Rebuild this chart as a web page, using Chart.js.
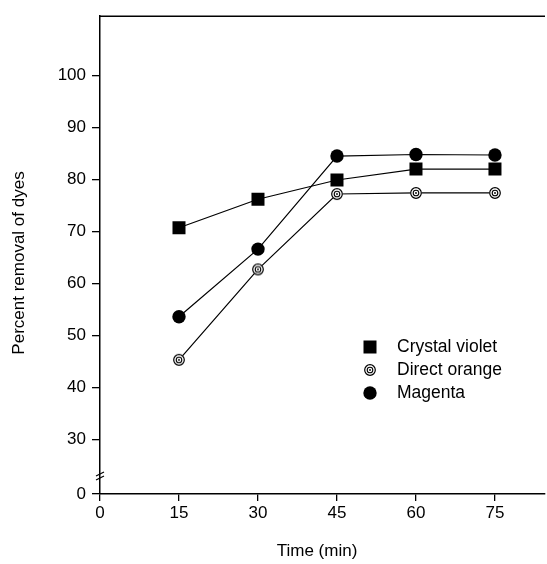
<!DOCTYPE html>
<html>
<head>
<meta charset="utf-8">
<script src="https://cdn.jsdelivr.net/npm/chart.js@4"></script>
<style>
  body { margin: 0; background: #fff; }
</style>
</head>
<body>
<canvas id="myChart" width="547" height="564"></canvas>
<script>
const times = [15, 30, 45, 60, 75];
const crystalViolet = [70.7, 76.2, 79.9, 82.0, 82.0];
const directOrange = [45.3, 62.7, 77.2, 77.4, 77.4];
const magenta = [53.6, 66.6, 84.5, 84.8, 84.7];
const seriesNames = ['Crystal violet', 'Direct orange', 'Magenta'];
const xTicks = [0, 15, 30, 45, 60, 75];
const yTicks = [0, 30, 40, 50, 60, 70, 80, 90, 100];

const Y_MIN = 19.5; // the "0" sits at the bottom of the broken axis
const FONT = '"Liberation Sans", Arial, sans-serif';

// concentric ring marker for Direct orange
function makeRing() {
  const c = document.createElement('canvas');
  c.width = 14;
  c.height = 14;
  const g = c.getContext('2d');
  g.fillStyle = '#fff';
  g.beginPath();
  g.arc(7, 7, 5.8, 0, Math.PI * 2);
  g.fill();
  g.fillStyle = '#000';
  g.strokeStyle = '#000';
  g.lineWidth = 1.2;
  g.beginPath();
  g.arc(7, 7, 5.3, 0, Math.PI * 2);
  g.stroke();
  g.lineWidth = 1.1;
  g.beginPath();
  g.arc(7, 7, 2.8, 0, Math.PI * 2);
  g.stroke();
  g.beginPath();
  g.arc(7, 7, 0.9, 0, Math.PI * 2);
  g.fill();
  return c;
}
const ring = makeRing();

function toPoints(values) {
  return times.map((t, i) => ({ x: t, y: values[i] }));
}

const extras = {
  id: 'extras',
  afterDraw(chart) {
    const ctx = chart.ctx;
    const area = chart.chartArea;
    ctx.save();
    // top frame line
    ctx.strokeStyle = '#000';
    ctx.lineWidth = 1.5;
    ctx.beginPath();
    ctx.moveTo(area.left, area.top);
    ctx.lineTo(area.right, area.top);
    ctx.stroke();
    // axis break mark
    ctx.lineWidth = 1.2;
    ctx.beginPath();
    ctx.moveTo(area.left - 4, 476);
    ctx.lineTo(area.left + 4, 472);
    ctx.moveTo(area.left - 4, 480);
    ctx.lineTo(area.left + 4, 476);
    ctx.stroke();
    ctx.fillStyle = '#000';
    ctx.textBaseline = 'middle';
    // axis titles
    ctx.font = '17px ' + FONT;
    ctx.textAlign = 'center';
    ctx.fillText('Time (min)', 317, 551);
    ctx.save();
    ctx.translate(19, 263);
    ctx.rotate(-Math.PI / 2);
    ctx.fillText('Percent removal of dyes', 0, 0);
    ctx.restore();
    // legend
    ctx.font = '17.5px ' + FONT;
    ctx.textAlign = 'left';
    const y0 = 347;
    ctx.fillRect(370 - 6.5, y0 - 6.5, 13, 13);
    ctx.drawImage(ring, 370 - 7, y0 + 23 - 7);
    ctx.beginPath();
    ctx.arc(370, y0 + 46, 6.7, 0, Math.PI * 2);
    ctx.fill();
    seriesNames.forEach((name, i) => {
      ctx.fillText(name, 397, y0 + i * 23);
    });
    ctx.restore();
  }
};

const ctx = document.getElementById('myChart').getContext('2d');
const myChart = new Chart(ctx, {
  type: 'line',
  data: {
    datasets: [
      { label: seriesNames[0], data: toPoints(crystalViolet), pointStyle: 'rect', pointRadius: 9.2 },
      { label: seriesNames[1], data: toPoints(directOrange), pointStyle: ring },
      { label: seriesNames[2], data: toPoints(magenta), pointStyle: 'circle', pointRadius: 6.7 },
    ].map(d => Object.assign(d, {
      borderColor: '#000',
      backgroundColor: '#000',
      pointBorderWidth: 0,
      borderWidth: 1.2,
      tension: 0,
      fill: false,
    }))
  },
  options: {
    responsive: false,
    animation: false,
    layout: { autoPadding: false, padding: { top: 15, right: 2, left: 0, bottom: 0 } },
    plugins: {
      legend: { display: false },
      tooltip: { enabled: false },
    },
    scales: {
      x: {
        type: 'linear',
        min: 0,
        max: 84.5,
        afterBuildTicks: s => { s.ticks = xTicks.map(v => ({ value: v })); },
        afterFit: s => { s.height = 70; },
        grid: { drawOnChartArea: false, drawTicks: true, tickLength: 7, color: '#000', lineWidth: 1.3 },
        border: { color: '#000', width: 1.5 },
        ticks: { color: '#000', font: { size: 17, family: FONT }, padding: 2, maxRotation: 0 },
      },
      y: {
        min: Y_MIN,
        max: 111.4,
        afterBuildTicks: s => { s.ticks = yTicks.map(v => ({ value: v === 0 ? Y_MIN : v })); },
        afterFit: s => { s.width = 100; },
        grid: { drawOnChartArea: false, drawTicks: true, tickLength: 8, color: '#000', lineWidth: 1.3 },
        border: { color: '#000', width: 1.5 },
        ticks: {
          color: '#000',
          font: { size: 17, family: FONT },
          padding: 6,
          callback: v => (v < 30 ? '0' : v),
        },
      },
    },
  },
  plugins: [extras],
});
</script>
</body>
</html>
